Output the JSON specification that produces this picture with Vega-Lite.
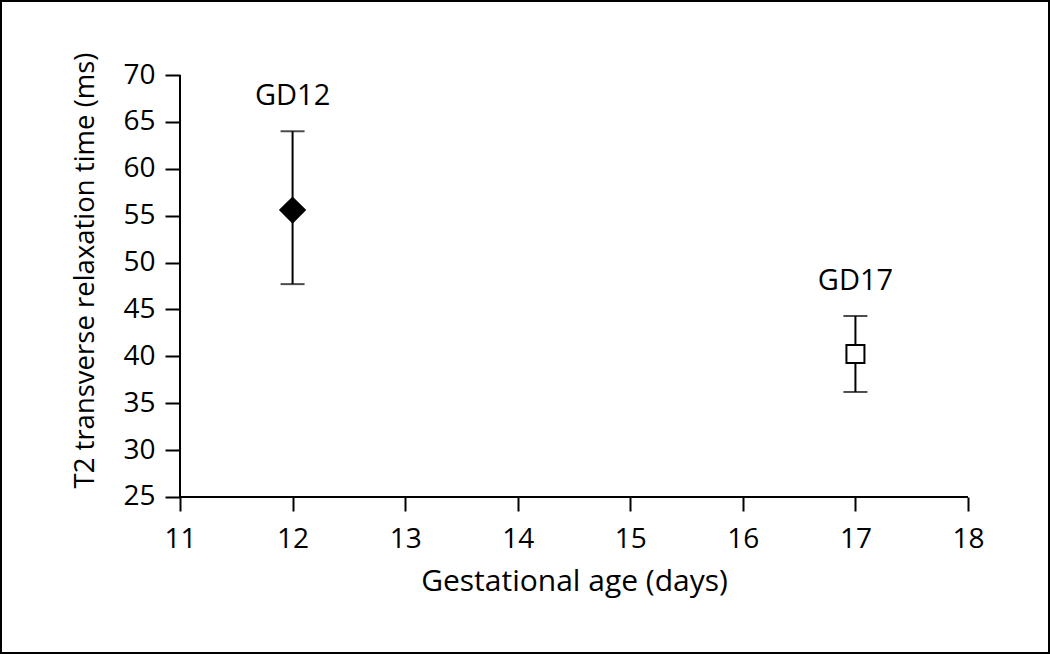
{
  "$schema": "https://vega.github.io/schema/vega-lite/v6.json",
  "width": 1050,
  "height": 654,
  "autosize": "none",
  "padding": 0,
  "background": "white",
  "config": {
    "view": {"stroke": "black", "strokeWidth": 4},
    "font": "Open Sans",
    "axis": {
      "grid": false,
      "domain": false,
      "tickColor": "black",
      "tickWidth": 2,
      "labelColor": "black",
      "labelFontSize": 28,
      "labelFont": "Open Sans",
      "titleColor": "black",
      "titleFontSize": 28,
      "titleFont": "Open Sans",
      "titleFontWeight": "normal"
    },
    "axisX": {
      "offset": -157,
      "tickSize": 14,
      "labelPadding": 36,
      "labelBaseline": "alphabetic",
      "titleFontSize": 30,
      "titleX": 574,
      "titleY": 93,
      "titleAlign": "center",
      "titleBaseline": "alphabetic"
    },
    "axisY": {
      "offset": -180,
      "tickSize": 15,
      "labelPadding": 10,
      "titleFontSize": 27.5,
      "titleX": -87,
      "titleY": 270,
      "titleAngle": -90,
      "titleAlign": "center",
      "titleBaseline": "alphabetic"
    }
  },
  "data": {
    "values": [
      {"group": "GD12", "age": 12, "mean": 55.6, "lower": 47.7, "upper": 64.0},
      {"group": "GD17", "age": 17, "mean": 40.25, "lower": 36.2, "upper": 44.3}
    ]
  },
  "layer": [
    {
      "mark": {"type": "rule", "color": "black", "strokeWidth": 2},
      "encoding": {
        "x": {"field": "age", "type": "quantitative", "scale": {"domain": [9.401, 18.7284], "nice": false, "zero": false},
          "axis": {"values": [11, 12, 13, 14, 15, 16, 17, 18], "title": "Gestational age (days)"}},
        "y": {"field": "lower", "type": "quantitative", "scale": {"domain": [8.258, 77.998], "nice": false, "zero": false},
          "axis": {"values": [25, 30, 35, 40, 45, 50, 55, 60, 65, 70], "title": "T2 transverse relaxation time (ms)"}},
        "y2": {"field": "upper"}
      }
    },
    {
      "mark": {"type": "tick", "orient": "horizontal", "color": "black", "size": 24, "thickness": 2},
      "encoding": {
        "x": {"field": "age", "type": "quantitative", "scale": {"domain": [9.401, 18.7284], "nice": false, "zero": false},
          "axis": {"values": [11, 12, 13, 14, 15, 16, 17, 18], "title": "Gestational age (days)"}},
        "y": {"field": "upper", "type": "quantitative", "scale": {"domain": [8.258, 77.998], "nice": false, "zero": false},
          "axis": {"values": [25, 30, 35, 40, 45, 50, 55, 60, 65, 70], "title": "T2 transverse relaxation time (ms)"}}
      }
    },
    {
      "mark": {"type": "tick", "orient": "horizontal", "color": "black", "size": 24, "thickness": 2},
      "encoding": {
        "x": {"field": "age", "type": "quantitative", "scale": {"domain": [9.401, 18.7284], "nice": false, "zero": false},
          "axis": {"values": [11, 12, 13, 14, 15, 16, 17, 18], "title": "Gestational age (days)"}},
        "y": {"field": "lower", "type": "quantitative", "scale": {"domain": [8.258, 77.998], "nice": false, "zero": false},
          "axis": {"values": [25, 30, 35, 40, 45, 50, 55, 60, 65, 70], "title": "T2 transverse relaxation time (ms)"}}
      }
    },
    {
      "mark": {"type": "point", "filled": true, "stroke": "black", "strokeWidth": 2, "opacity": 1},
      "encoding": {
        "x": {"field": "age", "type": "quantitative", "scale": {"domain": [9.401, 18.7284], "nice": false, "zero": false},
          "axis": {"values": [11, 12, 13, 14, 15, 16, 17, 18], "title": "Gestational age (days)"}},
        "y": {"field": "mean", "type": "quantitative", "scale": {"domain": [8.258, 77.998], "nice": false, "zero": false},
          "axis": {"values": [25, 30, 35, 40, 45, 50, 55, 60, 65, 70], "title": "T2 transverse relaxation time (ms)"}},
        "shape": {"field": "group", "type": "nominal", "scale": {"domain": ["GD12", "GD17"], "range": ["diamond", "square"]}, "legend": null},
        "fill": {"field": "group", "type": "nominal", "scale": {"domain": ["GD12", "GD17"], "range": ["black", "white"]}, "legend": null},
        "size": {"field": "group", "type": "nominal", "scale": {"domain": ["GD12", "GD17"], "range": [600, 324]}, "legend": null}
      }
    },
    {
      "mark": {"type": "text", "color": "black", "fontSize": 29, "font": "Open Sans", "align": "center", "baseline": "alphabetic", "dy": -26},
      "encoding": {
        "x": {"field": "age", "type": "quantitative", "scale": {"domain": [9.401, 18.7284], "nice": false, "zero": false},
          "axis": {"values": [11, 12, 13, 14, 15, 16, 17, 18], "title": "Gestational age (days)"}},
        "y": {"field": "upper", "type": "quantitative", "scale": {"domain": [8.258, 77.998], "nice": false, "zero": false},
          "axis": {"values": [25, 30, 35, 40, 45, 50, 55, 60, 65, 70], "title": "T2 transverse relaxation time (ms)"}},
        "text": {"field": "group"}
      }
    },
    {
      "mark": {"type": "rule", "color": "black", "strokeWidth": 2},
      "encoding": {
        "x": {"datum": 11, "type": "quantitative", "scale": {"domain": [9.401, 18.7284], "nice": false, "zero": false},
          "axis": {"values": [11, 12, 13, 14, 15, 16, 17, 18], "title": "Gestational age (days)"}},
        "x2": {"datum": 18},
        "y": {"datum": 25, "type": "quantitative", "scale": {"domain": [8.258, 77.998], "nice": false, "zero": false},
          "axis": {"values": [25, 30, 35, 40, 45, 50, 55, 60, 65, 70], "title": "T2 transverse relaxation time (ms)"}}
      }
    },
    {
      "mark": {"type": "rule", "color": "black", "strokeWidth": 2},
      "encoding": {
        "x": {"datum": 11, "type": "quantitative", "scale": {"domain": [9.401, 18.7284], "nice": false, "zero": false},
          "axis": {"values": [11, 12, 13, 14, 15, 16, 17, 18], "title": "Gestational age (days)"}},
        "y": {"datum": 25, "type": "quantitative", "scale": {"domain": [8.258, 77.998], "nice": false, "zero": false},
          "axis": {"values": [25, 30, 35, 40, 45, 50, 55, 60, 65, 70], "title": "T2 transverse relaxation time (ms)"}},
        "y2": {"datum": 70}
      }
    }
  ]
}
